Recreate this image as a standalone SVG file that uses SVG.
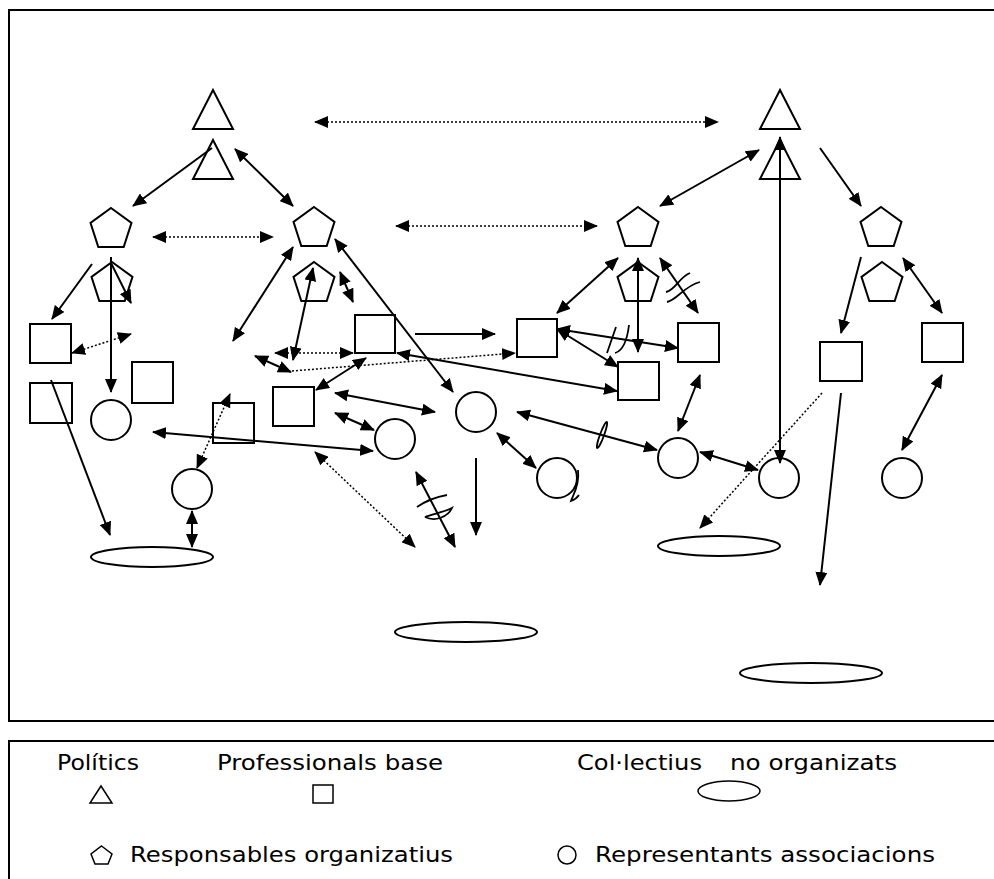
<svg xmlns="http://www.w3.org/2000/svg" xmlns:xlink="http://www.w3.org/1999/xlink" width="994" height="879" viewBox="0 0 994 879">
<style>
.n{fill:none;stroke:#000;stroke-width:2}
.c{fill:none;stroke:#000;stroke-width:2}
.d{fill:none;stroke:#000;stroke-width:1.5;stroke-dasharray:2 2}
.b{marker-start:url(#ah);marker-end:url(#ah)}
.e{marker-end:url(#ah)}
.m{fill:none;stroke:#000;stroke-width:1.8}
.f{fill:none;stroke:#000;stroke-width:2}
.t{font-family:"DejaVu Sans",Verdana,sans-serif;font-size:22px;fill:#000}
.l{fill:none;stroke:#000;stroke-width:1.5}
</style>
<defs>
<marker id="ah" viewBox="0 0 14 12" refX="13" refY="6" markerWidth="14" markerHeight="12" markerUnits="userSpaceOnUse" orient="auto-start-reverse"><path d="M0,0 L14,6 L0,12 Z" fill="#000"/></marker>
<path id="pg" d="M0,0 L20.5,14.9 L12.7,39 L-12.7,39 L-20.5,14.9 Z"/>
<path id="tr" d="M0,0 L20,39 L-20,39 Z"/>
</defs>
<rect width="994" height="879" fill="#fff"/>
<path class="f" d="M994,10 H9 V721 H994"/>
<path class="f" d="M994,741 H9 V879"/>

<g id="nodes">
<g id="T1"><use href="#tr" x="213" y="90" class="n"/></g>
<g id="T2"><use href="#tr" x="213" y="140" class="n"/></g>
<g id="T3"><use href="#tr" x="780" y="90" class="n"/></g>
<g id="T4"><use href="#tr" x="780" y="140" class="n"/></g>
<g id="P1"><use href="#pg" x="111" y="208" class="n"/></g>
<g id="P2"><use href="#pg" x="112" y="262" class="n"/></g>
<g id="P3"><use href="#pg" x="314" y="207" class="n"/></g>
<g id="P4"><use href="#pg" x="314" y="262" class="n"/></g>
<g id="P5"><use href="#pg" x="638" y="207" class="n"/></g>
<g id="P6"><use href="#pg" x="638" y="262" class="n"/></g>
<g id="P7"><use href="#pg" x="881" y="207" class="n"/></g>
<g id="P8"><use href="#pg" x="882" y="262" class="n"/></g>
<g id="S1"><rect class="n" x="30" y="324" width="41" height="39"/></g>
<g id="S2"><rect class="n" x="30" y="383" width="42" height="40"/></g>
<g id="S3"><rect class="n" x="132" y="362" width="41" height="41"/></g>
<g id="S4"><rect class="n" x="213" y="403" width="41" height="40"/></g>
<g id="S5"><rect class="n" x="273" y="387" width="41" height="39"/></g>
<g id="S6"><rect class="n" x="355" y="315" width="40" height="38"/></g>
<g id="S7"><rect class="n" x="517" y="319" width="40" height="38"/></g>
<g id="S8"><rect class="n" x="618" y="362" width="41" height="38"/></g>
<g id="S9"><rect class="n" x="678" y="323" width="41" height="39"/></g>
<g id="S10"><rect class="n" x="820" y="342" width="42" height="39"/></g>
<g id="S11"><rect class="n" x="922" y="323" width="41" height="39"/></g>
<g id="C1"><circle class="n" cx="111" cy="420" r="20"/></g>
<g id="C2"><circle class="n" cx="192" cy="489" r="20"/></g>
<g id="C3"><circle class="n" cx="395" cy="439" r="20"/></g>
<g id="C4"><circle class="n" cx="476" cy="412" r="20"/></g>
<g id="C5"><circle class="n" cx="557" cy="478" r="20"/><path class="m" d="M578,470 C580,485 573,495 571,501 C574,500 577,498 579,495"/></g>
<g id="C6"><circle class="n" cx="678" cy="458" r="20"/></g>
<g id="C7"><circle class="n" cx="779" cy="478" r="20"/></g>
<g id="C8"><circle class="n" cx="902" cy="478" r="20"/></g>
<g id="E1"><ellipse class="n" cx="152" cy="557" rx="61" ry="10"/></g>
<g id="E2"><ellipse class="n" cx="466" cy="632" rx="71" ry="10"/></g>
<g id="E3"><ellipse class="n" cx="719" cy="546" rx="61" ry="10"/></g>
<g id="E4"><ellipse class="n" cx="811" cy="673" rx="71" ry="10"/></g>
</g>

<g id="connectors">
<line class="d b" x1="315" y1="122" x2="718" y2="122"/>
<line class="c e" x1="212" y1="148" x2="133" y2="206"/>
<line class="c b" x1="235" y1="149" x2="293" y2="206"/>
<line class="d b" x1="153" y1="237" x2="273" y2="237"/>
<line class="d b" x1="396" y1="226" x2="597" y2="226"/>
<line class="c b" x1="660" y1="206" x2="759" y2="150"/>
<line class="c e" x1="820" y1="148" x2="861" y2="206"/>
<line class="c e" x1="92" y1="264" x2="52" y2="319"/>
<line class="c e" x1="111" y1="257" x2="111" y2="392"/>
<line class="c e" x1="111" y1="263" x2="131" y2="303"/>
<line class="c b" x1="293" y1="247" x2="233" y2="341"/>
<line class="c b" x1="313" y1="268" x2="293" y2="360"/>
<line class="c b" x1="340" y1="272" x2="353" y2="302"/>
<line class="c b" x1="335" y1="239" x2="453" y2="392"/>
<line class="c b" x1="618" y1="258" x2="557" y2="313"/>
<line class="c b" x1="638" y1="258" x2="638" y2="352"/>
<line class="c b" x1="660" y1="258" x2="698" y2="313"/>
<path class="m" d="M666,292 C676,290 678,278 690,273 M667,302 C677,300 684,286 700,282"/>
<line class="c e" x1="861" y1="257" x2="841" y2="333"/>
<line class="c b" x1="903" y1="258" x2="942" y2="313"/>
<line class="c b" x1="780" y1="137" x2="780" y2="463"/>
<line class="d b" x1="72" y1="353" x2="131" y2="334"/>
<line class="c e" x1="51" y1="380" x2="110" y2="535"/>
<line class="c b" x1="192" y1="511" x2="192" y2="547"/>
<line class="d b" x1="197" y1="468" x2="230" y2="394"/>
<line class="c b" x1="153" y1="432" x2="373" y2="451"/>
<line class="c b" x1="366" y1="358" x2="316" y2="390"/>
<line class="d b" x1="315" y1="452" x2="415" y2="547"/>
<line class="d b" x1="275" y1="353" x2="353" y2="353"/>
<line class="c b" x1="255" y1="356" x2="291" y2="372"/>
<line class="d e" x1="292" y1="371" x2="515" y2="353"/>
<line class="c e" x1="415" y1="334" x2="495" y2="334"/>
<line class="c b" x1="397" y1="353" x2="617" y2="391"/>
<line class="c b" x1="335" y1="393" x2="435" y2="412"/>
<line class="c b" x1="335" y1="413" x2="374" y2="430"/>
<line class="c b" x1="517" y1="412" x2="657" y2="450"/>
<ellipse class="m" cx="602" cy="435" rx="14" ry="2" transform="rotate(-70 602 435)"/>
<line class="c b" x1="497" y1="433" x2="536" y2="468"/>
<line class="c e" x1="476" y1="458" x2="476" y2="535"/>
<line class="c b" x1="416" y1="472" x2="455" y2="547"/>
<path class="m" d="M417,507 Q430,498 447,495 M425,517 C435,522 448,517 452,508 C445,512 432,514 425,517"/>
<line class="c b" x1="557" y1="329" x2="678" y2="348"/>
<path class="m" d="M607,353 L616,327 M615,353 Q626,350 629,325"/>
<line class="c b" x1="557" y1="329" x2="618" y2="367"/>
<line class="c b" x1="700" y1="375" x2="678" y2="431"/>
<line class="c b" x1="700" y1="452" x2="758" y2="470"/>
<line class="d e" x1="822" y1="393" x2="700" y2="528"/>
<line class="c e" x1="841" y1="393" x2="820" y2="585"/>
<line class="c b" x1="942" y1="375" x2="902" y2="450"/>
</g>

<g id="legend">
<text class="t" x="57" y="770" textLength="82" lengthAdjust="spacingAndGlyphs">Polítics</text>
<text class="t" x="217" y="770" textLength="226" lengthAdjust="spacingAndGlyphs">Professionals base</text>
<text class="t" y="770"><tspan x="577" textLength="125" lengthAdjust="spacingAndGlyphs">Col·lectius</tspan><tspan x="730" textLength="167" lengthAdjust="spacingAndGlyphs">no organizats</tspan></text>
<path class="l" d="M101,786 L112,803 L90,803 Z"/>
<rect class="l" x="313" y="785" width="20" height="18"/>
<ellipse class="l" cx="729" cy="791" rx="31" ry="10"/>
<path class="l" d="M101.5,846 L112,854 L108,864 L95,864 L91,854 Z"/>
<text class="t" x="130" y="862" textLength="323" lengthAdjust="spacingAndGlyphs">Responsables organizatius</text>
<ellipse class="l" cx="567" cy="855" rx="9" ry="9"/>
<text class="t" x="595" y="862" textLength="340" lengthAdjust="spacingAndGlyphs">Representants associacions</text>
</g>
</svg>
